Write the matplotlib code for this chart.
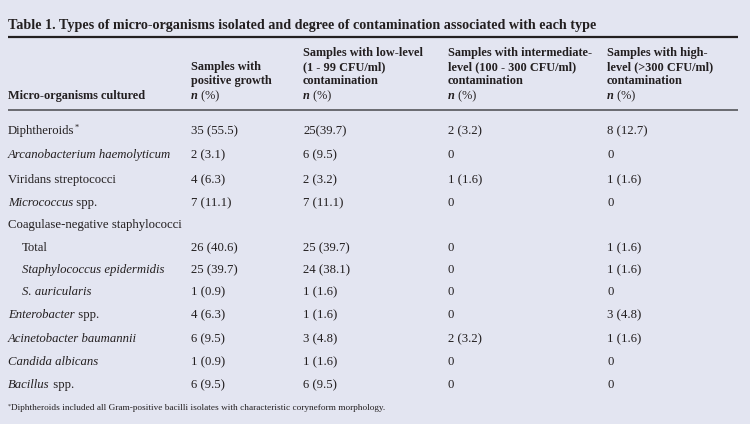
import matplotlib.pyplot as plt

# serif font, like the journal table
plt.rcParams['font.family'] = ['Liberation Serif', 'DejaVu Serif']

BG = '#e3e5f1'
INK = '#231f20'

title = "Table 1. Types of micro-organisms isolated and degree of contamination associated with each type"

# header lines per column (last line "n (%)" is drawn separately)
head_organism = ["Micro-organisms cultured"]
head_positive = ["Samples with", "positive growth"]
head_low = ["Samples with low-level", "(1 - 99 CFU/ml)", "contamination"]
head_inter = ["Samples with intermediate-", "level (100 - 300 CFU/ml)", "contamination"]
head_high = ["Samples with high-", "level (>300 CFU/ml)", "contamination"]

# organism names as (text, style) pieces
organisms = [
    [("Diphtheroids", "n"), ("*", "sup")],
    [("Arcanobacterium haemolyticum", "i")],
    [("Viridans streptococci", "n")],
    [("Micrococcus", "i"), (" spp.", "n")],
    [("Coagulase-negative staphylococci", "n")],
    [("Total", "n")],
    [("Staphylococcus epidermidis", "i")],
    [("S. auricularis", "i")],
    [("Enterobacter", "i"), (" spp.", "n")],
    [("Acinetobacter baumannii", "i")],
    [("Candida albicans", "i")],
    [("Bacillus", "i"), (" spp.", "n")],
]
indented = [False, False, False, False, False, True, True, True, False, False, False, False]

positive = ["35 (55.5)", "2 (3.1)", "4 (6.3)", "7 (11.1)", "", "26 (40.6)",
            "25 (39.7)", "1 (0.9)", "4 (6.3)", "6 (9.5)", "1 (0.9)", "6 (9.5)"]
low = ["25(39.7)", "6 (9.5)", "2 (3.2)", "7 (11.1)", "", "25 (39.7)",
       "24 (38.1)", "1 (1.6)", "1 (1.6)", "3 (4.8)", "1 (1.6)", "6 (9.5)"]
inter = ["2 (3.2)", "0", "1 (1.6)", "0", "", "0",
         "0", "0", "0", "2 (3.2)", "0", "0"]
high = ["8 (12.7)", "0", "1 (1.6)", "0", "", "1 (1.6)",
        "1 (1.6)", "0", "3 (4.8)", "1 (1.6)", "0", "0"]

footnote = "Diphtheroids included all Gram-positive bacilli isolates with characteristic coryneform morphology."

# layout in pixels
col_x = [8, 191, 303, 448, 607]
row_y = [131, 155, 180, 203, 225, 248, 270, 292, 315, 339, 362, 385]
head_y = [53, 67, 81]
nline_y = 96
FS = 9.2        # body
FS_HEAD = 8.8   # bold column heads
FS_TITLE = 10.2

fig = plt.figure(figsize=(7.5, 4.24), dpi=100)
fig.patch.set_facecolor(BG)
ax = fig.add_axes([0, 0, 1, 1])
ax.set_xlim(0, 750)
ax.set_ylim(424, 0)
ax.axis('off')
ax.set_facecolor(BG)
renderer = fig.canvas.get_renderer()


def pieces(x, y, parts, size=FS, weight='normal'):
    # draw text pieces one after the other, each in its own style
    for txt, st in parts:
        kw = dict(fontsize=size, color=INK, va='center', ha='left', fontweight=weight)
        yy = y
        if st == 'i':
            kw['fontstyle'] = 'italic'
        elif st == 'bi':
            kw['fontstyle'] = 'italic'
            kw['fontweight'] = 'bold'
        elif st == 'sup':
            kw['fontsize'] = size * 0.65
            yy = y - size * 0.3
        t = ax.text(x, yy, txt, **kw)
        bb = t.get_window_extent(renderer=renderer)
        x += bb.width


ax.text(8, 26, title, fontsize=FS_TITLE, fontweight='bold', color=INK, va='center')
ax.plot([8, 738], [37, 37], color=INK, lw=1.6, solid_capstyle='butt')

# header block
for lines, x in zip([head_positive, head_low, head_inter, head_high], col_x[1:]):
    start = 3 - len(lines)
    for i, line in enumerate(lines):
        ax.text(x, head_y[start + i], line, fontsize=FS_HEAD, fontweight='bold', color=INK, va='center')
ax.text(col_x[0], nline_y, head_organism[0], fontsize=FS_HEAD, fontweight='bold', color=INK, va='center')
for x in col_x[1:]:
    pieces(x, nline_y, [("n", "bi"), (" (%)", "n")], size=FS_HEAD)
ax.plot([8, 738], [110, 110], color='#55555a', lw=1.2, solid_capstyle='butt')

# body
for i, y in enumerate(row_y):
    x0 = col_x[0] + (14 if indented[i] else 0)
    pieces(x0, y, organisms[i])
    for col, x in zip([positive, low, inter, high], col_x[1:]):
        if col[i]:
            ax.text(x, y, col[i], fontsize=FS, color=INK, va='center')

pieces(8, 408, [("*", "sup"), (footnote, "n")], size=6.7)

fig.savefig('out.png', dpi=100, facecolor=BG)
